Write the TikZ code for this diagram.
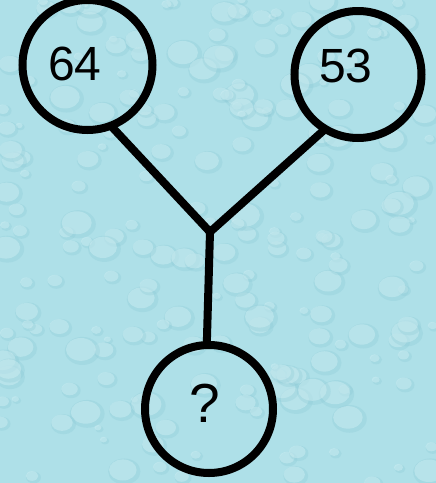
\documentclass[tikz,border=0pt]{standalone}
\usepackage{fontspec}
\setmainfont{Liberation Sans}
\definecolor{water}{RGB}{174,224,232}
\definecolor{waterdark}{RGB}{140,202,214}
\definecolor{waterlight}{RGB}{214,242,246}
\begin{document}
\begin{tikzpicture}[x=1pt,y=-1pt,
  ring/.style={circle,draw=black,line width=8pt,minimum size=#1,inner sep=0pt,outer sep=0pt},
  num/.style={anchor=base,font=\fontsize{48}{48}\selectfont,inner sep=0pt},
  link/.style={draw=black,line width=8pt,line join=miter}]
\useasboundingbox (0,0) rectangle (436,483);
\fill[water] (0,0) rectangle (436,483);
\pgfmathsetseed{11}
\foreach \i in {1,...,220}{
  \pgfmathsetmacro{\px}{rnd*436}
  \pgfmathsetmacro{\py}{rnd*483}
  \pgfmathsetmacro{\rs}{4+rnd*14}
  \fill[waterdark,opacity=0.3] (\px+1.5,\py+1.5) ellipse ({\rs} and {\rs*0.8});
  \fill[waterlight,opacity=0.4] (\px,\py) ellipse ({\rs*0.85} and {\rs*0.65});
}
\node[ring=130pt] (c64) at (87.5,65) {};
\node[ring=127pt] (c53) at (358,74.5) {};
\node[ring=128pt] (cq) at (209,409) {};
\node[num] (t64) at (75,80) {64};
\node[num] (t53) at (346,82) {53};
\node[num,font=\fontsize{55}{55}\selectfont] (tq) at (205,422) {?};
\coordinate (j) at (210,232);
\draw[link] (c64.-69) -- (j) -- (c53.-121);
\draw[link] (j) -- (cq.92);
\end{tikzpicture}
\end{document}
